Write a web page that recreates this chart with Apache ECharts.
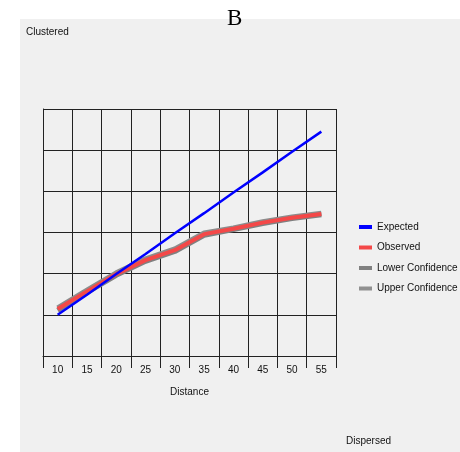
<!DOCTYPE html>
<html><head><meta charset="utf-8">
<script src="https://cdn.jsdelivr.net/npm/echarts@6/dist/echarts.min.js"></script>
<style>html,body{margin:0;padding:0;background:#fff}#c{width:460px;height:452px}</style>
</head><body><div id="c"></div>
<script>
var categories = ['10','15','20','25','30','35','40','45','50','55'];
var expected = [1.00, 1.49, 1.99, 2.48, 2.98, 3.47, 3.97, 4.46, 4.96, 5.45];
var observed = [1.14, 1.57, 1.99, 2.33, 2.57, 2.96, 3.09, 3.24, 3.36, 3.45];
var lowerConf = [1.11, 1.54, 1.96, 2.30, 2.54, 2.93, 3.07, 3.22, 3.34, 3.43];
var upperConf = [1.17, 1.60, 2.02, 2.36, 2.60, 2.99, 3.11, 3.26, 3.38, 3.47];
var FONT = '"Liberation Sans", Arial, sans-serif';
var chart = echarts.init(document.getElementById('c'));
chart.setOption({
  backgroundColor: '#ffffff',
  animation: false,
  graphic: [
    {type:'rect', z:-10, shape:{x:20,y:19,width:440,height:433}, style:{fill:'#f0f0f0'}},
    {type:'text', left:26, top:27, style:{text:'Clustered', font:'10px '+FONT, fill:'#111'}},
    {type:'text', left:346, top:436, style:{text:'Dispersed', font:'10px '+FONT, fill:'#111'}},
    {type:'text', left:227, top:7, style:{text:'B', font:'23px "Liberation Serif", "Times New Roman", serif', fill:'#000'}}
  ],
  grid: {left:43, top:109, width:293, height:247, containLabel:false},
  legend: {
    orient:'vertical', left:354, top:217, itemGap:10.5, itemWidth:13, itemHeight:4,
    icon:'rect',
    textStyle:{fontFamily:FONT, fontSize:10, color:'#111'},
    data:['Expected','Observed','Lower Confidence','Upper Confidence']
  },
  xAxis: {
    type:'category', data:categories, boundaryGap:true,
    name:'Distance', nameLocation:'middle', nameGap:31,
    nameTextStyle:{fontFamily:FONT, fontSize:10, color:'#111'},
    axisLine:{lineStyle:{color:'#222', width:1}},
    axisTick:{show:true, length:12, lineStyle:{color:'#222'}},
    axisLabel:{fontFamily:FONT, fontSize:10, color:'#111', margin:9},
    splitLine:{show:true, lineStyle:{color:'#222', width:1}}
  },
  yAxis: {
    type:'value', min:0, max:6, interval:1,
    axisLine:{show:true, lineStyle:{color:'#222'}},
    axisTick:{show:false}, axisLabel:{show:false},
    splitLine:{show:true, lineStyle:{color:'#222', width:1}}
  },
  series: [
    {name:'Expected', type:'line', data:expected, symbol:'none', z:5, lineStyle:{color:'#0000ff', width:2.5}, itemStyle:{color:'#0000ff'}},
    {name:'Lower Confidence', type:'line', data:lowerConf, symbol:'none', z:2, lineStyle:{color:'#808080', width:5}, itemStyle:{color:'#808080'}},
    {name:'Upper Confidence', type:'line', data:upperConf, symbol:'none', z:2, lineStyle:{color:'#8c8c8c', width:5}, itemStyle:{color:'#909090'}},
    {name:'Observed', type:'line', data:observed, symbol:'none', z:3, lineStyle:{color:'#f44848', width:4}, itemStyle:{color:'#f44848'}}
  ]
});
</script></body></html>
